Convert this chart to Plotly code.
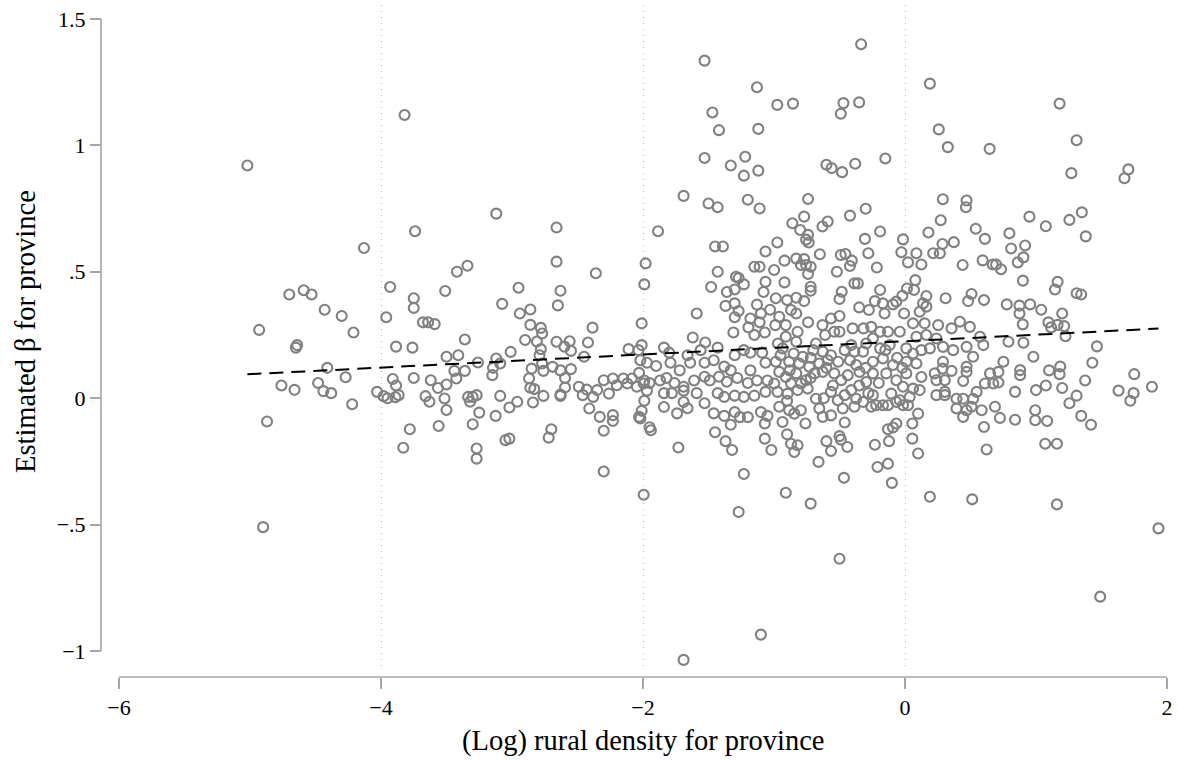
import plotly.graph_objects as go

# ---------------- data ----------------
pts_far_left = [(-5.02, 0.92), (-4.93, 0.27), (-4.90, -0.51), (-4.87, -0.092), (-4.76, 0.05),
    (-4.70, 0.41), (-4.66, 0.033), (-4.64, 0.21), (-4.65, 0.20), (-4.59, 0.427), (-4.53, 0.41),
    (-4.48, 0.06), (-4.44, 0.028), (-4.43, 0.35), (-4.41, 0.12), (-4.38, 0.02), (-4.30, 0.325),
    (-4.27, 0.083), (-4.22, -0.024), (-4.21, 0.26), (-4.13, 0.594), (-4.03, 0.025), (-3.98, 0.008),
    (-3.96, 0.32), (-3.95, 0.0), (-3.93, 0.44), (-3.91, 0.076), (-3.89, 0.004), (-3.82, 1.12)]

pts_left = [(-3.74, 0.66), (-3.12, 0.73), (-2.66, 0.675), (-2.66, 0.54), (-3.42, 0.50), (-3.34, 0.524),
    (-2.36, 0.494), (-3.51, 0.424), (-2.95, 0.437), (-2.63, 0.425), (-3.75, 0.395), (-3.75, 0.357),
    (-3.075, 0.373), (-2.65, 0.367), (-2.94, 0.335), (-2.86, 0.351), (-3.68, 0.30), (-3.64, 0.30),
    (-3.59, 0.293), (-2.86, 0.29), (-2.78, 0.278), (-2.77, 0.256), (-2.385, 0.279), (-2.01, 0.296),
    (-1.98, 0.533), (-1.99, 0.45), (-3.36, 0.232), (-2.90, 0.23), (-2.81, 0.224), (-2.78, 0.194),
    (-2.79, 0.17), (-2.66, 0.223), (-2.56, 0.225), (-2.60, 0.204), (-2.55, 0.187), (-2.42, 0.22),
    (-3.885, 0.204), (-3.76, 0.2), (-3.50, 0.164), (-3.41, 0.17), (-3.26, 0.141), (-3.12, 0.157),
    (-3.145, 0.12), (-3.09, 0.137), (-3.01, 0.183), (-2.45, 0.164), (-2.11, 0.194), (-2.035, 0.19),
    (-3.44, 0.108), (-3.36, 0.108), (-3.425, 0.078), (-3.15, 0.091), (-2.85, 0.117), (-2.76, 0.108),
    (-2.77, 0.137), (-2.69, 0.124), (-2.63, 0.11), (-2.55, 0.115), (-3.75, 0.08), (-3.62, 0.071),
    (-3.565, 0.04), (-3.50, 0.054), (-3.885, 0.05), (-3.865, 0.012), (-2.87, 0.078), (-2.86, 0.041),
    (-2.83, 0.036), (-2.595, 0.08), (-2.595, 0.042), (-2.63, 0.014), (-2.49, 0.045), (-2.46, 0.012),
    (-2.43, 0.034), (-2.38, 0.005), (-2.35, 0.032), (-2.30, 0.071), (-2.23, 0.078), (-2.20, 0.051),
    (-2.15, 0.078), (-2.12, 0.058), (-2.085, 0.078), (-2.047, 0.045), (-1.995, 0.058), (-2.26, 0.018),
    (-3.66, 0.008), (-3.63, -0.014), (-3.515, -0.001), (-3.50, -0.047), (-3.335, 0.005), (-3.30, 0.005),
    (-3.27, 0.012), (-3.32, -0.014), (-3.09, 0.009), (-3.02, -0.037), (-2.96, -0.014), (-2.84, -0.017),
    (-2.76, 0.009), (-2.63, 0.009), (-2.41, -0.041), (-2.33, -0.074), (-2.23, -0.067), (-2.23, -0.09),
    (-2.30, -0.129), (-2.03, -0.074), (-3.25, -0.057), (-3.30, -0.103), (-3.125, -0.07), (-3.78, -0.123),
    (-3.56, -0.11), (-3.83, -0.196), (-3.27, -0.199), (-3.27, -0.239), (-3.05, -0.166), (-3.02, -0.16),
    (-2.70, -0.123), (-2.72, -0.156), (-2.30, -0.29), (-1.995, -0.382)]

pts_mid_left = [(-1.53, 1.335), (-1.13, 1.23), (-1.47, 1.13), (-1.42, 1.06), (-1.12, 1.065), (-1.53, 0.95),
    (-1.33, 0.92), (-1.22, 0.955), (-1.23, 0.88), (-1.12, 0.90), (-1.69, 0.80), (-1.50, 0.77),
    (-1.43, 0.755), (-1.20, 0.785), (-1.11, 0.75), (-1.885, 0.66), (-1.45, 0.60), (-1.39, 0.60),
    (-1.065, 0.58), (-1.43, 0.50), (-1.15, 0.52), (-1.11, 0.52), (-1.48, 0.44), (-1.29, 0.48),
    (-1.27, 0.475), (-1.23, 0.45), (-1.36, 0.42), (-1.30, 0.43), (-1.08, 0.42), (-1.065, 0.46),
    (-1.37, 0.365), (-1.30, 0.375), (-1.27, 0.345), (-1.30, 0.32), (-1.13, 0.37), (-1.10, 0.335),
    (-1.03, 0.35), (-1.11, 0.30), (-1.59, 0.335), (-1.18, 0.315), (-1.195, 0.28),
    (-1.62, 0.24), (-1.525, 0.22), (-2.01, 0.21), (-1.31, 0.26), (-1.15, 0.25), (-1.07, 0.26),
    (-1.84, 0.20), (-1.80, 0.18), (-1.66, 0.17), (-1.56, 0.19), (-1.43, 0.20), (-1.30, 0.17),
    (-1.23, 0.19), (-1.18, 0.18), (-1.09, 0.18), (-1.97, 0.14), (-1.90, 0.127), (-1.79, 0.14),
    (-1.72, 0.11), (-1.64, 0.14), (-1.53, 0.14), (-1.46, 0.15), (-1.38, 0.125), (-1.33, 0.11),
    (-1.18, 0.11), (-1.065, 0.14), (-1.99, 0.07), (-1.95, 0.06), (-1.87, 0.07), (-1.82, 0.08),
    (-1.76, 0.06), (-1.69, 0.045), (-1.61, 0.07), (-1.53, 0.085), (-1.49, 0.07), (-1.42, 0.085),
    (-1.36, 0.065), (-1.28, 0.08), (-1.20, 0.06), (-1.13, 0.07), (-1.05, 0.07), (-1.97, 0.03),
    (-1.84, 0.02), (-1.78, 0.02), (-1.69, 0.03), (-1.59, 0.02), (-1.43, 0.02), (-1.38, 0.005),
    (-1.30, 0.01), (-1.23, 0.005), (-1.15, 0.01), (-1.065, 0.025), (-1.84, -0.035), (-1.69, -0.015),
    (-1.66, -0.04), (-1.53, -0.02), (-1.46, -0.06), (-1.38, -0.07), (-1.30, -0.055), (-1.26, -0.075),
    (-1.20, -0.075), (-1.10, -0.055), (-1.05, -0.07), (-1.07, -0.10), (-1.74, -0.06), (-1.33, -0.105),
    (-2.02, 0.15), (-2.03, 0.10), (-1.99, -0.01), (-2.01, -0.05), (-2.02, -0.08), (-1.95, -0.115),
    (-1.94, -0.127), (-1.73, -0.195), (-1.45, -0.135), (-1.37, -0.17), (-1.32, -0.205), (-1.23, -0.30),
    (-1.07, -0.16), (-1.02, -0.205), (-1.27, -0.45), (-1.10, -0.935), (-1.69, -1.035)]

pts_mid = [(-0.335, 1.40), (-0.975, 1.16), (-0.855, 1.165), (-0.47, 1.167), (-0.49, 1.125), (-0.35, 1.17),
    (-0.60, 0.923), (-0.56, 0.91), (-0.48, 0.894), (-0.38, 0.927), (-0.15, 0.948), (-0.74, 0.788),
    (-0.30, 0.749), (-0.42, 0.722), (-0.77, 0.718), (-0.86, 0.692), (-0.80, 0.665), (-0.63, 0.679),
    (-0.59, 0.699), (-0.74, 0.646), (-0.755, 0.627), (-0.735, 0.616), (-0.975, 0.616), (-0.19, 0.659),
    (-0.306, 0.63), (-0.015, 0.628), (-0.028, 0.577), (-0.28, 0.573), (-0.65, 0.569), (-0.49, 0.566),
    (-0.455, 0.57), (-0.92, 0.544), (-0.83, 0.552), (-0.77, 0.55), (-0.755, 0.527), (-0.72, 0.52),
    (-0.795, 0.527), (-0.406, 0.544), (-0.42, 0.523), (-0.999, 0.507), (-0.215, 0.517), (-0.52, 0.50),
    (-0.74, 0.491), (-0.92, 0.458), (-0.386, 0.454), (-0.36, 0.454), (-0.72, 0.441), (-0.72, 0.425),
    (-0.19, 0.428), (-0.483, 0.421), (-0.50, 0.392), (-0.02, 0.405), (-0.986, 0.395), (-0.90, 0.388),
    (-0.83, 0.397), (-0.77, 0.384), (-0.87, 0.349), (-0.83, 0.335), (-0.23, 0.384), (-0.17, 0.375),
    (-0.092, 0.371), (-0.066, 0.382), (-0.35, 0.359), (-0.276, 0.349), (-0.156, 0.335), (-0.007, 0.335),
    (-0.96, 0.322), (-0.91, 0.289), (-0.99, 0.289), (-0.74, 0.30), (-0.82, 0.263), (-0.63, 0.289),
    (-0.565, 0.315), (-0.50, 0.325), (-0.54, 0.263), (-0.50, 0.263), (-0.40, 0.276), (-0.317, 0.276),
    (-0.258, 0.282), (-0.19, 0.263), (-0.13, 0.263), (-0.04, 0.263), (-0.61, 0.25),
    (-0.935, -0.094), (-0.76, -0.10), (-0.90, -0.143), (-0.87, -0.18), (-0.845, -0.213), (-0.82, -0.186),
    (-0.66, -0.252), (-0.60, -0.17), (-0.565, -0.209), (-0.50, -0.15), (-0.49, -0.164), (-0.44, -0.193),
    (-0.46, -0.096), (-0.466, -0.315), (-0.91, -0.374), (-0.72, -0.417), (-0.50, -0.635), (-0.23, -0.184),
    (-0.122, -0.17), (-0.13, -0.123), (-0.092, -0.116), (-0.066, -0.10), (-0.21, -0.272), (-0.13, -0.259),
    (-0.10, -0.335),
    (-0.91, 0.243), (-0.296, 0.216), (-0.245, 0.236), (-0.41, 0.21), (-0.68, 0.216), (-0.83, 0.223),
    (-0.97, 0.216), (-0.935, 0.197), (-0.85, 0.177), (-0.78, 0.164), (-0.70, 0.19), (-0.628, 0.184),
    (-0.565, 0.17), (-0.51, 0.144), (-0.46, 0.19), (-0.386, 0.184), (-0.32, 0.184), (-0.19, 0.197),
    (-0.117, 0.21), (-0.986, 0.144), (-0.884, 0.144), (-0.807, 0.137), (-0.73, 0.124), (-0.654, 0.137),
    (-0.59, 0.15), (-0.373, 0.131), (-0.245, 0.144), (-0.168, 0.157), (-0.092, 0.131), (-0.96, 0.104),
    (-0.91, 0.084), (-0.83, 0.098), (-0.756, 0.071), (-0.69, 0.098), (-0.628, 0.104), (-0.54, 0.098),
    (-0.487, 0.071), (-0.437, 0.091), (-0.347, 0.104), (-0.296, 0.064), (-0.245, 0.098), (-0.143, 0.098),
    (-0.066, 0.071), (-0.998, 0.058), (-0.87, 0.058), (-0.795, 0.058), (-0.973, 0.025), (-0.896, 0.018),
    (-0.82, 0.032), (-0.743, 0.038), (-0.68, -0.002), (-0.565, 0.025), (-0.513, -0.008), (-0.46, 0.012),
    (-0.41, 0.032), (-0.373, -0.002), (-0.32, -0.015), (-0.245, 0.012), (-0.22, -0.028), (-0.168, -0.028),
    (-0.105, 0.018), (-0.04, -0.008), (-0.96, -0.034), (-0.884, -0.048), (-0.845, -0.061), (-0.795, -0.048),
    (-0.654, -0.041), (-0.628, -0.074), (-0.565, -0.068), (-0.475, -0.041), (-0.386, -0.034),
    (-0.258, -0.034), (-0.13, -0.028), (-0.066, -0.015),
    (-0.95, 0.17), (-0.88, 0.11), (-0.72, 0.16), (-0.60, 0.12), (-0.55, 0.05), (-0.42, 0.15),
    (-0.30, 0.12), (-0.20, 0.06), (-0.15, 0.19), (-0.06, 0.16), (-0.35, 0.05), (-0.72, 0.08),
    (-0.90, -0.01), (-0.62, 0.0), (-0.28, 0.02), (-0.02, 0.12)]

pts_mid_right = [(0.19, 1.244), (0.258, 1.063), (0.327, 0.993), (0.646, 0.986), (0.289, 0.787), (0.47, 0.782),
    (0.465, 0.755), (0.95, 0.718), (0.273, 0.704), (0.179, 0.655), (0.54, 0.67), (0.61, 0.63),
    (0.797, 0.652), (0.373, 0.617), (0.286, 0.61), (0.215, 0.573), (0.266, 0.573), (0.087, 0.573),
    (0.023, 0.537), (0.125, 0.529), (0.44, 0.527), (0.593, 0.545), (0.67, 0.529), (0.695, 0.529),
    (0.733, 0.51), (0.81, 0.592), (0.917, 0.604), (0.904, 0.557), (0.861, 0.537), (0.90, 0.465),
    (0.079, 0.467), (0.015, 0.434), (0.069, 0.428), (0.163, 0.404), (0.31, 0.395), (0.508, 0.412),
    (0.482, 0.384), (0.603, 0.388), (0.777, 0.371), (0.874, 0.366), (0.955, 0.371), (0.874, 0.335),
    (0.138, 0.375), (0.112, 0.342), (0.163, 0.362), (0.419, 0.302), (0.061, 0.296), (0.15, 0.296),
    (0.253, 0.289), (0.495, 0.282), (0.355, 0.276), (0.899, 0.292),
    (0.087, 0.243), (0.163, 0.25), (0.24, 0.236), (0.572, 0.243), (0.79, 0.223), (0.904, 0.219),
    (0.98, 0.164), (0.01, 0.197), (0.061, 0.177), (0.125, 0.19), (0.19, 0.197), (0.29, 0.203),
    (0.368, 0.19), (0.47, 0.203), (0.598, 0.21), (0.52, 0.164), (0.01, 0.144), (0.087, 0.137),
    (0.29, 0.144), (0.286, 0.117), (0.751, 0.144), (0.47, 0.124), (0.47, 0.104), (0.355, 0.108),
    (0.01, 0.098), (0.125, 0.084), (0.227, 0.098), (0.24, 0.071), (0.304, 0.071), (0.444, 0.068),
    (0.649, 0.098), (0.713, 0.104), (0.879, 0.111), (0.879, 0.091), (0.61, 0.058), (0.674, 0.058),
    (0.713, 0.062), (-0.015, 0.045), (0.061, 0.038), (0.112, 0.032), (0.036, 0.005), (0.24, 0.012),
    (0.304, 0.012), (0.304, 0.025), (0.547, 0.025), (0.84, 0.025), (1.0, 0.032), (0.393, -0.002),
    (0.444, -0.002), (0.52, -0.002), (0.393, -0.041), (0.47, -0.048), (0.508, -0.034), (0.444, -0.074),
    (0.585, -0.048), (0.687, -0.034), (0.725, -0.078), (0.84, -0.085), (0.994, -0.048), (0.994, -0.087),
    (-0.015, -0.028), (0.023, -0.028), (0.10, -0.061), (0.056, -0.10),
    (0.603, -0.114), (0.056, -0.16), (0.10, -0.219), (0.623, -0.203), (0.19, -0.39), (0.513, -0.40)]

pts_right = [(1.18, 1.165), (1.31, 1.02), (1.27, 0.89), (1.705, 0.905), (1.675, 0.87), (1.075, 0.68),
    (1.255, 0.705), (1.35, 0.735), (1.38, 0.64), (1.165, 0.46), (1.145, 0.43), (1.31, 0.415),
    (1.345, 0.41), (1.04, 0.35), (1.20, 0.335), (1.095, 0.30), (1.115, 0.28), (1.165, 0.29),
    (1.215, 0.285), (1.225, 0.245), (1.465, 0.205), (1.43, 0.14), (1.10, 0.11), (1.185, 0.125),
    (1.18, 0.095), (1.375, 0.07), (1.75, 0.095), (1.075, 0.05), (1.20, 0.04), (1.885, 0.045),
    (1.63, 0.03), (1.745, 0.02), (1.72, -0.01), (1.31, 0.01), (1.255, -0.02), (1.085, -0.09),
    (1.345, -0.07), (1.42, -0.105), (1.07, -0.18), (1.16, -0.18), (1.16, -0.42), (1.935, -0.515),
    (1.49, -0.785)]

# fitted line
fit_intercept = 0.225
fit_slope = 0.026

x_ticks = [-6, -4, -2, 0, 2]
x_ticktext = ["\u22126", "\u22124", "\u22122", "0", "2"]
y_ticks = [-1, -0.5, 0, 0.5, 1, 1.5]
y_ticktext = ["\u22121", "\u2212.5", "0", ".5", "1", "1.5"]

x_title = "(Log) rural density for province"
y_title = "Estimated \u03b2 for province"

# ---------------- figure ----------------
all_pts = pts_far_left + pts_left + pts_mid_left + pts_mid + pts_mid_right + pts_right
xs = [p[0] for p in all_pts]
ys = [p[1] for p in all_pts]

line_x = [min(xs), max(xs)]
line_y = [fit_intercept + fit_slope * v for v in line_x]

FONT = "Liberation Serif"
AXIS_GRAY = "#a6a6a6"
TICK_SIZE = 22
TITLE_SIZE = 28.5

fig = go.Figure()
fig.add_trace(go.Scatter(
    x=xs, y=ys, mode="markers",
    marker=dict(symbol="circle-open", size=10, color="#808080",
                line=dict(width=2.1, color="#808080")),
    showlegend=False, hoverinfo="skip"))
fig.add_trace(go.Scatter(
    x=line_x, y=line_y, mode="lines",
    line=dict(color="black", width=2, dash="14px,8px"),
    showlegend=False, hoverinfo="skip"))

W, H = 1178, 761
ml, mr, mt, mb = 101, 11, 5, 84
pw, ph = W - ml - mr, H - mt - mb

fig.update_layout(
    width=W, height=H,
    margin=dict(l=ml, r=mr, t=mt, b=mb, autoexpand=False),
    paper_bgcolor="white", plot_bgcolor="white",
    font=dict(family=FONT, color="black", size=TICK_SIZE),
    xaxis=dict(range=[-6, 2], domain=[18 / pw, 1], anchor="free", position=0,
               automargin=False,
               tickvals=x_ticks, ticktext=x_ticktext,
               ticks="outside", ticklen=11, tickwidth=1.6, tickcolor=AXIS_GRAY,
               showline=False, zeroline=False,
               showgrid=True, gridcolor="#b4b4b4", gridwidth=1, griddash="1px,5px",
               tickfont=dict(family=FONT, size=TICK_SIZE, color="black")),
    yaxis=dict(range=[-1.075, 1.555], domain=[7 / ph, 1], anchor="free", position=0,
               automargin=False,
               tickvals=y_ticks, ticktext=y_ticktext,
               ticks="outside", ticklen=11, tickwidth=1.6, tickcolor=AXIS_GRAY,
               showline=False, zeroline=False, showgrid=False,
               tickfont=dict(family=FONT, size=TICK_SIZE, color="black")),
    shapes=[
        dict(type="line", xref="x", yref="paper", x0=-6, x1=2, y0=0, y1=0,
             line=dict(color=AXIS_GRAY, width=1.6)),
        dict(type="line", xref="paper", yref="y", x0=0, x1=0, y0=-1, y1=1.5,
             line=dict(color=AXIS_GRAY, width=1.6)),
    ],
    annotations=[
        dict(text=x_title, xref="paper", yref="paper",
             x=(643 - ml) / pw, y=-(741 - (H - mb)) / ph,
             showarrow=False, xanchor="center", yanchor="middle",
             font=dict(family=FONT, size=TITLE_SIZE, color="black")),
        dict(text=y_title, xref="paper", yref="paper",
             x=-(ml - 25) / pw, y=((H - mb) - 332) / ph, textangle=-90,
             showarrow=False, xanchor="center", yanchor="middle",
             font=dict(family=FONT, size=TITLE_SIZE, color="black")),
    ],
)

# remove the browser's default 8px page margin so the figure sits at the window origin
fig.write_html("out.html",
               config={"displayModeBar": False},
               post_script="document.body.style.margin='0';document.body.style.overflow='hidden';")
